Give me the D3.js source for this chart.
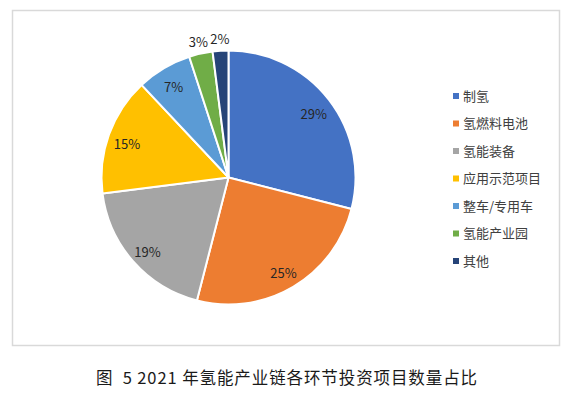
<!DOCTYPE html>
<html>
<head>
<meta charset="utf-8">
<script src="https://cdn.jsdelivr.net/npm/d3@7"></script>
<style>
  body { margin: 0; background: #fff; }
  svg { display: block; font-family: "Noto Sans CJK SC", "Noto Sans", sans-serif; }
</style>
</head>
<body>
<div id="chart"></div>
<script>
const categories = ["制氢", "氢燃料电池", "氢能装备", "应用示范项目", "整车/专用车", "氢能产业园", "其他"];
const values = [29, 25, 19, 15, 7, 3, 2];
const colors = ["#4472C4", "#ED7D31", "#A5A5A5", "#FFC000", "#5B9BD5", "#70AD47", "#264478"];
const caption = "图  5 2021 年氢能产业链各环节投资项目数量占比";

const width = 566;
const height = 397;
const cx = 228.5, cy = 177.5, radius = 127;

const data = categories.map((c, i) => ({ name: c, value: values[i] }));

const svg = d3.select("#chart")
  .append("svg")
  .attr("width", width)
  .attr("height", height);

// chart frame
svg.append("rect")
  .attr("x", 12.5)
  .attr("y", 10.5)
  .attr("width", 547)
  .attr("height", 335)
  .attr("fill", "#fff")
  .attr("stroke", "#d9d9d9")
  .attr("stroke-width", 1.5);

const pie = d3.pie().sort(null).value(d => d.value);
const arc = d3.arc().innerRadius(0).outerRadius(radius);
const arcs = pie(data);

const g = svg.append("g").attr("transform", `translate(${cx}, ${cy})`);

g.selectAll("path")
  .data(arcs)
  .join("path")
  .attr("d", arc)
  .attr("fill", (d, i) => colors[i])
  .attr("stroke", "#fff")
  .attr("stroke-width", 2)
  .attr("stroke-linejoin", "round");

// labels: inside for big slices, outside for small ones
const inner = d3.arc().innerRadius(radius * 0.85).outerRadius(radius * 0.85);
const outer = d3.arc().innerRadius(138).outerRadius(138);

g.selectAll("text")
  .data(arcs)
  .join("text")
  .attr("transform", d => `translate(${(d.data.value < 5 ? outer : inner).centroid(d)})`)
  .attr("text-anchor", "middle")
  .attr("dy", d => d.data.value < 5 ? "0.35em" : "0.6em")
  .attr("font-size", 13)
  .attr("fill", "#262626")
  .text(d => d.data.value + "%");

// legend
const legend = svg.append("g").attr("transform", "translate(453, 96)");
const rows = legend.selectAll("g")
  .data(categories)
  .join("g")
  .attr("transform", (d, i) => `translate(0, ${i * 27.5})`);

rows.append("rect")
  .attr("x", 0)
  .attr("y", -3)
  .attr("width", 6)
  .attr("height", 6)
  .attr("fill", (d, i) => colors[i]);

rows.append("text")
  .attr("x", 10)
  .attr("dy", "0.35em")
  .attr("font-size", 13)
  .attr("fill", "#404040")
  .text(d => d);

svg.append("text")
  .attr("x", 287)
  .attr("y", 384)
  .attr("text-anchor", "middle")
  .attr("font-size", 16.5)
  .attr("letter-spacing", 0.9)
  .attr("fill", "#1a1a1a")
  .attr("xml:space", "preserve")
  .style("white-space", "pre")
  .text(caption);
</script>
</body>
</html>
